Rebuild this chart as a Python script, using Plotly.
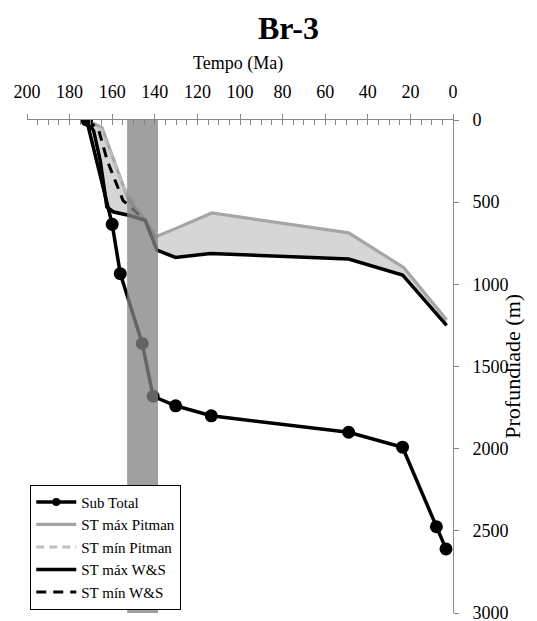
import plotly.graph_objects as go

# ---- data (Ma, depth in m) ----
sub_ma = [172, 160, 156.2, 145.9, 140.8, 130.2, 113.5, 49.0, 23.7, 7.8, 3.3]
sub_depth = [0, 635, 935, 1360, 1681, 1739, 1800, 1900, 1991, 2475, 2610]

pit_max_ma = [172, 164.8, 152.3, 146.8, 141.3, 139.8, 130.3, 113.2, 49.0, 23.2, 3.0]
pit_max_depth = [0, 47, 490, 570, 671, 712, 661, 566, 687, 897, 1215]

pit_min_ma = [172, 165.0, 160.5, 155.5, 149.5, 144.5, 141.3]
pit_min_depth = [0, 60, 210, 385, 520, 600, 671]

ws_max_ma = [172, 168.7, 165.6, 163.5, 162.5, 159.3, 152.3, 144.5, 140.6, 139.0, 130.3, 113.9, 49.0, 23.7, 3.0]
ws_max_depth = [0, 66, 248, 430, 530, 560, 580, 611, 742, 792, 836, 812, 846, 943, 1250]

ws_min_ma = [172, 166.5, 162.3, 158.6, 154.9, 150.7, 144.5]
ws_min_depth = [0, 54, 248, 375, 490, 538, 611]

bar_range = [153.0, 138.5]

x_ticks = [200, 180, 160, 140, 120, 100, 80, 60, 40, 20, 0]
y_ticks = [0, 500, 1000, 1500, 2000, 2500, 3000]

FONT = "Liberation Serif"
AX = "#868686"

fig = go.Figure()

# fill between ST max W&S and ST max Pitman
fig.add_trace(go.Scatter(x=ws_max_ma, y=ws_max_depth, mode="lines",
                         line=dict(width=0), showlegend=False, hoverinfo="skip"))
fig.add_trace(go.Scatter(x=pit_max_ma, y=pit_max_depth, mode="lines",
                         line=dict(width=0), fill="tonexty", fillcolor="#d6d6d6",
                         showlegend=False, hoverinfo="skip"))

fig.add_trace(go.Scatter(x=pit_max_ma, y=pit_max_depth, mode="lines", name="ST máx Pitman",
                         line=dict(color="#a6a6a6", width=3.2), legendrank=2))
fig.add_trace(go.Scatter(x=pit_min_ma, y=pit_min_depth, mode="lines", name="ST mín Pitman",
                         line=dict(color="#bfbfbf", width=3, dash="8px,5px"), legendrank=3))
fig.add_trace(go.Scatter(x=ws_max_ma, y=ws_max_depth, mode="lines", name="ST máx W&S",
                         line=dict(color="black", width=3.5), legendrank=4))
fig.add_trace(go.Scatter(x=ws_min_ma, y=ws_min_depth, mode="lines", name="ST mín W&S",
                         line=dict(color="black", width=3, dash="10px,7px"), legendrank=5))
fig.add_trace(go.Scatter(x=sub_ma, y=sub_depth, mode="lines+markers", name="Sub Total",
                         line=dict(color="black", width=3.5),
                         marker=dict(color="black", size=13), showlegend=False))
# legend proxy for Sub Total (smaller marker)
fig.add_trace(go.Scatter(x=[None], y=[None], mode="lines+markers", name="Sub Total",
                         line=dict(color="black", width=3.5),
                         marker=dict(color="black", size=8), legendrank=1))
# helper trace for crossing ticks axis
fig.add_trace(go.Scatter(x=[None], y=[None], xaxis="x2", showlegend=False, hoverinfo="skip"))

fig.add_shape(type="rect", xref="x", yref="y", x0=bar_range[0], x1=bar_range[1],
              y0=0, y1=3000, fillcolor="rgba(131,131,131,0.765)", line=dict(width=0),
              layer="above")

fig.update_layout(
    width=537, height=621,
    margin=dict(l=26.7, r=84.3, t=119.5, b=8, autoexpand=False),
    paper_bgcolor="white", plot_bgcolor="white",
    font=dict(family=FONT, color="black", size=18),
    xaxis=dict(range=[200, 0], side="top", anchor="y", showline=True, linecolor=AX,
               linewidth=1, ticks="inside", ticklen=5, tickcolor=AX, tickvals=x_ticks,
               ticktext=[str(v) for v in x_ticks], tickfont=dict(family=FONT, size=18),
               minor=dict(ticks="inside", ticklen=5, dtick=5, tick0=0, tickcolor=AX),
               showgrid=False, zeroline=False, ticklabelstandoff=14,
               ticklabeloverflow="allow", automargin=False),
    xaxis2=dict(range=[200, 0], side="top", overlaying="x", anchor="y", showline=False,
                ticks="outside", ticklen=5, tickcolor=AX, tickvals=x_ticks,
                showticklabels=False, showgrid=False, zeroline=False, automargin=False),
    yaxis=dict(range=[3000, 0], side="right", anchor="x", showline=True, linecolor=AX,
               linewidth=1, ticks="outside", ticklen=5, tickcolor=AX, tickvals=y_ticks,
               ticktext=[str(v) for v in y_ticks], tickfont=dict(family=FONT, size=18),
               showgrid=False, zeroline=False, ticklabelstandoff=10,
               ticklabeloverflow="allow", automargin=False),
    legend=dict(x=0.0077, y=0.0067, xanchor="left", yanchor="bottom",
                bgcolor="white", bordercolor="black", borderwidth=1,
                traceorder="normal",
                font=dict(family=FONT, size=15), tracegroupgap=0, itemwidth=40),
    annotations=[
        dict(text="<b>Br-3</b>", xref="paper", yref="paper", x=0.6134, y=1.186,
             xanchor="center", yanchor="middle", showarrow=False,
             font=dict(family=FONT, size=32)),
        dict(text="Tempo (Ma)", xref="paper", yref="paper", x=0.496, y=1.114,
             xanchor="center", yanchor="middle", showarrow=False,
             font=dict(family=FONT, size=18)),
        dict(text="Profundiade (m)", xref="paper", yref="paper", x=1.139, y=0.5,
             xanchor="center", yanchor="middle", textangle=-90, showarrow=False,
             font=dict(family=FONT, size=22)),
    ],
)

fig.write_html("out.html")
